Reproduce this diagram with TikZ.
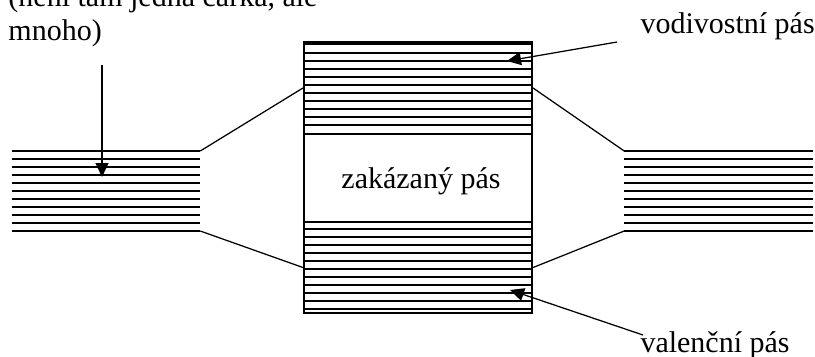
\documentclass[tikz,border=0pt]{standalone}
\usepackage{fontspec}
\setmainfont{Liberation Serif}
\usepackage{tikz}
\usetikzlibrary{arrows.meta,positioning,calc}

\begin{document}
\begin{tikzpicture}[
    x=0.4pt, y=-0.4pt,
    font=\fontsize{12}{13.4}\selectfont,
    band/.style={rectangle, draw, line width=0.85pt, minimum width=91.2pt, inner sep=0pt},
    group/.style={rectangle, minimum width=75.4pt, minimum height=32pt, inner sep=0pt, outer sep=0pt},
    label/.style={inner sep=0pt, anchor=base west},
    hatch/.style={line width=0.85pt},
    thinline/.style={line width=0.5pt},
    arr/.style={-{Triangle[length=5.6pt, width=5.2pt]}, line width=0.5pt}
]
\useasboundingbox (0,0) rectangle (815,356);

% central box with its two bands
\node[band, minimum height=108.4pt] (box) at (418,177.5) {};
\node[band, minimum height=36.8pt] (cond) at (418,88) {};
\node[band, minimum height=36.4pt] (val) at (418,267.5) {};
\node[label, anchor=base] (forb) at (421,188) {zakázaný pás};

\draw[thinline] ($(cond.north west)+(0,3)$) -- ($(cond.north east)+(0,3)$);
\foreach \k in {1,...,10}
    \draw[hatch] ($(cond.north west)+(0,4+8*\k)$) -- ($(cond.north east)+(0,4+8*\k)$);
\foreach \k in {1,...,11}
    \draw[hatch] ($(val.north west)+(0,8*\k)$) -- ($(val.north east)+(0,8*\k)$);

% side groups of levels
\node[group] (lgrp) at (106,191) {};
\node[group] (rgrp) at (718.5,191) {};
\foreach \g in {lgrp,rgrp} {
    \draw[thinline] (\g.north west) -- (\g.north east);
    \foreach \k in {1,...,10}
        \draw[hatch] ($(\g.north west)+(0,8*\k)$) -- ($(\g.north east)+(0,8*\k)$);
}

\draw[thinline] (lgrp.north east) -- (cond.west);
\draw[thinline] (lgrp.south east) -- (val.west);
\draw[thinline] (cond.east) -- (rgrp.north west);
\draw[thinline] (val.east) -- (rgrp.south west);

% labels
\node[label, align=left] (note) at (8,40) {(není tam jedna čárka, ale\\mnoho)};
\node[label] (vod) at (640,33) {vodivostní pás};
\node[label] (vallab) at (640,352) {valenční pás};

\coordinate (notefrom) at (102,65);
\coordinate (noteto) at (102,177);
\coordinate (vodfrom) at (617,42);
\coordinate (vodto) at (507,61);
\coordinate (valfrom) at (643,335);
\coordinate (valto) at (510,290);
\draw[arr] (notefrom) -- (noteto);
\draw[arr] (vodfrom) -- (vodto);
\draw[arr] (valfrom) -- (valto);
\end{tikzpicture}
\end{document}
